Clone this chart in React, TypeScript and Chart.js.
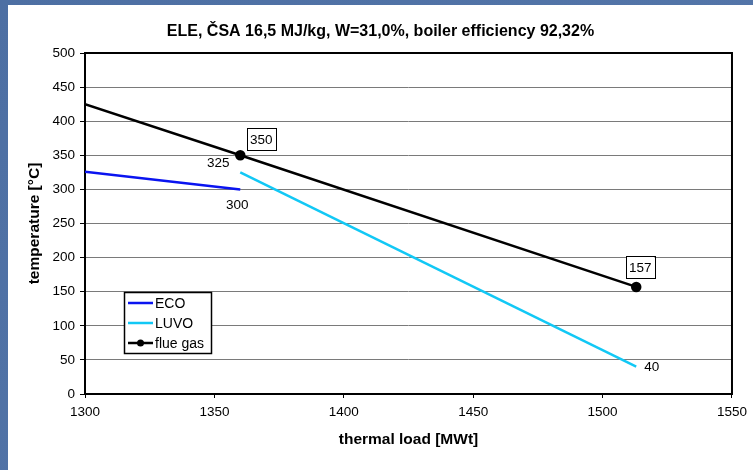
import React, { useEffect, useRef } from "react";
import { Chart, registerables } from "chart.js";

Chart.register(...registerables);

// ---- data ----
const titleText = "ELE, ČSA 16,5 MJ/kg, W=31,0%, boiler efficiency 92,32%";
const xAxisTitle = "thermal load [MWt]";
const yAxisTitle = "temperature [°C]";

const seriesNames = ["ECO", "LUVO", "flue gas"];

const ecoLoad = [1300, 1360];
const ecoTemp = [326, 300];

const luvoLoad = [1360, 1513];
const luvoTemp = [325, 40];

const flueLoad = [1300, 1360, 1513];
const flueTemp = [425, 350, 157];

const xMin = 1300;
const xMax = 1550;
const xStep = 50;
const yMin = 0;
const yMax = 500;
const yStep = 50;

// data labels: which dataset / point, the text shown
const labelDataset = [2, 0, 1, 2, 1];
const labelIndex = [1, 1, 0, 2, 1];
const labelText = ["350", "300", "325", "157", "40"];

// ---- styles ----
const FONT = "'Liberation Sans', Arial, Helvetica, sans-serif";
const seriesColors = ["#0a14f0", "#12c8f5", "#000000"];
const labelStyle = [
  { dx: 21, dy: -16, boxed: true, align: "center" },
  { dx: -3, dy: 15, boxed: false, align: "center" },
  { dx: -22, dy: -10, boxed: false, align: "center" },
  { dx: 4, dy: -20, boxed: true, align: "center" },
  { dx: 8, dy: 0, boxed: false, align: "left" },
];

const toPoints = (xs: number[], ys: number[]) => xs.map((x, i) => ({ x, y: ys[i] }));

const overlayPlugin = {
  id: "overlay",
  beforeDatasetsDraw(chart: any) {
    const { ctx, chartArea } = chart;
    ctx.save();
    ctx.strokeStyle = "#000";
    ctx.lineWidth = 2;
    ctx.strokeRect(chartArea.left, chartArea.top, chartArea.right - chartArea.left, chartArea.bottom - chartArea.top);
    ctx.restore();
  },
  afterDraw(chart: any) {
    const { ctx, chartArea } = chart;
    ctx.save();
    ctx.fillStyle = "#000";
    // title
    ctx.font = `bold 16px ${FONT}`;
    ctx.textAlign = "center";
    ctx.textBaseline = "middle";
    ctx.fillText(titleText, chart.width / 2, 27);
    // x axis title
    ctx.font = `bold 15.5px ${FONT}`;
    ctx.fillText(xAxisTitle, (chartArea.left + chartArea.right) / 2, 435);
    // y axis title
    ctx.save();
    ctx.translate(27, (chartArea.top + chartArea.bottom) / 2);
    ctx.rotate(-Math.PI / 2);
    ctx.fillText(yAxisTitle, 0, 0);
    ctx.restore();

    // data labels
    ctx.font = `13.5px ${FONT}`;
    labelText.forEach((t, i) => {
      const meta = chart.getDatasetMeta(labelDataset[i]);
      const el = meta.data[labelIndex[i]];
      const st = labelStyle[i];
      const cx = el.x + st.dx;
      const cy = el.y + st.dy;
      ctx.textAlign = st.align as CanvasTextAlign;
      ctx.textBaseline = "middle";
      if (st.boxed) {
        const w = ctx.measureText(t).width + 6;
        const h = 22;
        ctx.fillStyle = "#fff";
        ctx.fillRect(cx - w / 2, cy - h / 2, w, h);
        ctx.strokeStyle = "#000";
        ctx.lineWidth = 1;
        ctx.strokeRect(Math.round(cx - w / 2) + 0.5, Math.round(cy - h / 2) + 0.5, Math.round(w), h);
      }
      ctx.fillStyle = "#000";
      ctx.fillText(t, cx, cy + 1);
    });

    // legend
    const lx = 116, ly = 287, lw = 87, lh = 61;
    ctx.fillStyle = "#fff";
    ctx.fillRect(lx, ly, lw, lh);
    ctx.strokeStyle = "#000";
    ctx.lineWidth = 1.5;
    ctx.strokeRect(lx + 0.5, ly + 0.5, lw, lh);
    ctx.font = `14px ${FONT}`;
    ctx.textAlign = "left";
    ctx.textBaseline = "middle";
    chart.data.datasets.forEach((ds: any, i: number) => {
      const y = ly + 11 + i * 20;
      ctx.strokeStyle = ds.borderColor;
      ctx.lineWidth = 2.5;
      ctx.beginPath();
      ctx.moveTo(lx + 4, y);
      ctx.lineTo(lx + 29, y);
      ctx.stroke();
      if (i === 2) {
        ctx.fillStyle = ds.borderColor;
        ctx.beginPath();
        ctx.arc(lx + 16.5, y, 3.5, 0, Math.PI * 2);
        ctx.fill();
      }
      ctx.fillStyle = "#000";
      ctx.fillText(ds.label, lx + 31, y + 1);
    });
    ctx.restore();
  },
};

export default function App() {
  const ref = useRef<HTMLCanvasElement>(null);
  useEffect(() => {
    if (!ref.current) return;
    const chart = new Chart(ref.current, {
      type: "line",
      data: {
        datasets: [
          {
            label: seriesNames[0],
            data: toPoints(ecoLoad, ecoTemp),
            borderColor: seriesColors[0],
            backgroundColor: seriesColors[0],
            borderWidth: 2.5,
            pointRadius: 0,
          },
          {
            label: seriesNames[1],
            data: toPoints(luvoLoad, luvoTemp),
            borderColor: seriesColors[1],
            backgroundColor: seriesColors[1],
            borderWidth: 2.5,
            pointRadius: 0,
          },
          {
            label: seriesNames[2],
            data: toPoints(flueLoad, flueTemp),
            borderColor: seriesColors[2],
            backgroundColor: seriesColors[2],
            borderWidth: 2.5,
            pointRadius: flueLoad.map((x) => (x === xMin ? 0 : 4)),
          },
        ],
      },
      options: {
        animation: false,
        responsive: false,
        maintainAspectRatio: false,
        layout: { padding: { top: 48, right: 21, left: 0, bottom: 0 } },
        plugins: { legend: { display: false }, title: { display: false }, tooltip: { enabled: false } },
        scales: {
          x: {
            type: "linear",
            min: xMin,
            max: xMax,
            ticks: {
              stepSize: xStep,
              color: "#000",
              font: { family: FONT, size: 13.5 },
              padding: 6,
              maxRotation: 0,
              callback: (v: any) => String(v),
            },
            grid: { color: "rgba(0,0,0,0)", tickColor: "#000", tickLength: 4, drawOnChartArea: false },
            border: { display: false },
            afterFit: (s: any) => { s.height = 76; },
          },
          y: {
            type: "linear",
            min: yMin,
            max: yMax,
            ticks: { stepSize: yStep, color: "#000", font: { family: FONT, size: 13.5 }, padding: 5, callback: (v: any) => String(v) },
            grid: { color: "#7a7a7a", lineWidth: 1, tickColor: "#000", tickLength: 5 },
            border: { display: false },
            afterFit: (s: any) => { s.width = 77; },
          },
        },
      },
      plugins: [overlayPlugin],
    } as any);
    return () => chart.destroy();
  }, []);

  return (
    <div style={{ position: "fixed", left: 0, top: 0, width: 753, height: 470, background: "linear-gradient(135deg, #4d6fa3, #5678ab)" }}>
      <div style={{ position: "absolute", left: 8, top: 5, width: 745, height: 465, background: "#fff" }}>
        <canvas ref={ref} width={745} height={465} style={{ display: "block", width: 745, height: 465 }} />
      </div>
    </div>
  );
}
